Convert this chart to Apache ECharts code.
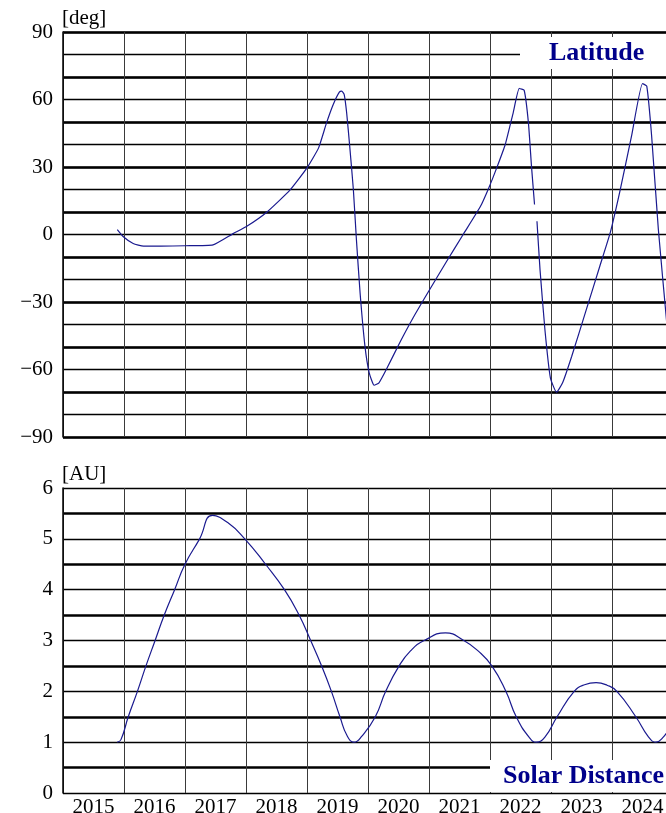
<!DOCTYPE html>
<html>
<head>
<meta charset="utf-8">
<script src="https://cdn.jsdelivr.net/npm/echarts@6/dist/echarts.min.js"></script>
<style>html,body{margin:0;padding:0;background:#fff}#c{width:666px;height:813px}</style>
</head>
<body>
<div id="c"></div>
<script>
var yearLabels = ['2015','2016','2017','2018','2019','2020','2021','2022','2023','2024'];

var latYears = [2015.89, 2015.99, 2016.15, 2016.32, 2016.6, 2017.0, 2017.46, 2017.79, 2018.0, 2018.34, 2018.72, 2019.0, 2019.19, 2019.32, 2019.43, 2019.53, 2019.57, 2019.61, 2019.65, 2019.70, 2019.76, 2019.81, 2019.87, 2019.95, 2020.02, 2020.10, 2020.18, 2020.30, 2020.52, 2020.74, 2020.98, 2021.29, 2021.56, 2021.84, 2021.98, 2022.11, 2022.25, 2022.38, 2022.48, 2022.56, 2022.63, 2022.68, 2022.73, 2022.75, 2022.77, 2022.82, 2022.90, 2022.99, 2023.09, 2023.19, 2023.34, 2023.58, 2023.80, 2023.97, 2024.13, 2024.32, 2024.50, 2024.57, 2024.65, 2024.76, 2024.91];
var latValues = [2.2, -1.0, -4.0, -5.2, -5.2, -5.0, -4.6, 0.4, 3.4, 9.9, 19.7, 29.6, 38.5, 49.6, 57.8, 63.3, 63.7, 62.2, 54.1, 39.3, 20.0, -2.2, -25.9, -49.6, -61.5, -67.0, -65.9, -60.0, -48.1, -37.0, -25.9, -11.9, 0.0, 12.3, 20.7, 29.6, 40.0, 54.1, 64.9, 64.1, 49.6, 30.4, 13.3, null, 5.9, -15.6, -42.2, -63.7, -70.1, -65.9, -54.1, -33.3, -14.1, 0.7, 19.3, 43.7, 67.1, 65.9, 43.7, 2.2, -43];

var distYears = [2015.89, 2015.95, 2016.07, 2016.22, 2016.36, 2016.51, 2016.66, 2016.83, 2017.0, 2017.24, 2017.45, 2017.70, 2017.98, 2018.32, 2018.63, 2018.87, 2019.06, 2019.24, 2019.40, 2019.54, 2019.66, 2019.77, 2019.90, 2020.12, 2020.29, 2020.51, 2020.70, 2020.92, 2021.27, 2021.57, 2021.80, 2022.03, 2022.26, 2022.43, 2022.64, 2022.76, 2022.90, 2023.10, 2023.38, 2023.55, 2023.74, 2023.92, 2024.08, 2024.39, 2024.60, 2024.72, 2024.84, 2024.95];
var distValues = [1.00, 1.05, 1.50, 2.00, 2.50, 3.00, 3.50, 4.00, 4.50, 5.00, 5.46, 5.32, 5.00, 4.50, 4.00, 3.50, 3.00, 2.50, 2.00, 1.50, 1.12, 1.00, 1.12, 1.50, 2.00, 2.50, 2.80, 3.00, 3.15, 3.00, 2.80, 2.50, 2.00, 1.50, 1.10, 1.00, 1.10, 1.50, 2.00, 2.13, 2.17, 2.12, 2.00, 1.50, 1.10, 1.00, 1.10, 1.30];

var latTicks = [-90, -60, -30, 0, 30, 60, 90];
var distTicks = [0, 1, 2, 3, 4, 5, 6];

function pairs(xs, ys) { return xs.map(function (x, i) { return [x, ys[i]]; }); }

var FONT = 'Liberation Serif';
var lineColor = '#1a1a8f';
var labelStyle = { fontFamily: FONT, fontSize: 21, color: '#000' };

var chart = echarts.init(document.getElementById('c'), null, { renderer: 'canvas' });
chart.setOption({
  animation: false,
  backgroundColor: '#fff',
  title: [
    { text: 'Latitude', left: 520, top: 37, padding: [3, 60, 3, 29], backgroundColor: '#fff',
      textStyle: { fontFamily: FONT, fontSize: 26, fontWeight: 'bold', color: '#00008b' } },
    { text: 'Solar Distance', left: 490, top: 760, padding: [3, 60, 3, 13], backgroundColor: '#fff',
      textStyle: { fontFamily: FONT, fontSize: 26, fontWeight: 'bold', color: '#00008b' } }
  ],
  grid: [
    { left: 63, width: 610, top: 32, height: 405, outerBoundsMode: 'none', containLabel: false },
    { left: 63, width: 610, top: 488, height: 305, outerBoundsMode: 'none', containLabel: false }
  ],
  xAxis: [
    { type: 'value', gridIndex: 0, min: 2015, max: 2025, interval: 1,
      axisLabel: { show: false }, axisTick: { show: false }, axisLine: { show: false },
      splitLine: { show: true, lineStyle: { color: '#3a3a3a', width: 1 } } },
    { type: 'value', gridIndex: 1, min: 2015, max: 2025, interval: 1, position: 'top',
      axisLabel: { show: false }, axisTick: { show: false }, axisLine: { show: false },
      splitLine: { show: true, lineStyle: { color: '#3a3a3a', width: 1 } } },
    { type: 'category', gridIndex: 1, data: yearLabels, boundaryGap: true, position: 'bottom',
      axisLabel: Object.assign({ margin: 4 }, labelStyle), axisTick: { show: false },
      axisLine: { show: false }, splitLine: { show: false } }
  ],
  yAxis: [
    { type: 'value', gridIndex: 0, min: -90, max: 90, interval: 10,
      name: '[deg]', nameLocation: 'end', nameGap: 3,
      nameTextStyle: { fontFamily: FONT, fontSize: 21, color: '#000', align: 'left', verticalAlign: 'bottom', padding: [0, 0, 0, -1] },
      axisLabel: Object.assign({ margin: 10, formatter: function (v) {
        if (latTicks.indexOf(v) < 0) return '';
        return v < 0 ? '\u2212' + Math.abs(v) : String(v);
      } }, labelStyle),
      axisTick: { show: false }, axisLine: { show: true, lineStyle: { color: '#000', width: 1.5 } },
      splitLine: { show: true, lineStyle: { color: '#000', width: 1.3 } } },
    { type: 'value', gridIndex: 0, min: -90, max: 90, interval: 20,
      axisLabel: { show: false }, axisTick: { show: false }, axisLine: { show: false },
      splitLine: { show: true, lineStyle: { color: '#000', width: 2.5 } } },
    { type: 'value', gridIndex: 1, min: 0, max: 6, interval: 1,
      name: '[AU]', nameLocation: 'end', nameGap: 3,
      nameTextStyle: { fontFamily: FONT, fontSize: 21, color: '#000', align: 'left', verticalAlign: 'bottom', padding: [0, 0, 0, -1] },
      axisLabel: Object.assign({ margin: 10, formatter: function (v) {
        return distTicks.indexOf(v) < 0 ? '' : String(v);
      } }, labelStyle),
      axisTick: { show: false }, axisLine: { show: true, lineStyle: { color: '#000', width: 1.5 } },
      splitLine: { show: true, lineStyle: { color: '#000', width: 1.3 } } },
    { type: 'value', gridIndex: 1, min: 0, max: 6, interval: 0.5,
      axisLabel: { show: false }, axisTick: { show: false }, axisLine: { show: false },
      splitLine: { show: true, lineStyle: { color: ['rgba(0,0,0,0)', '#000'], width: 2.5 } } }
  ],
  series: [
    { type: 'line', xAxisIndex: 0, yAxisIndex: 0, data: pairs(latYears, latValues),
      showSymbol: false, connectNulls: false, smooth: 0.15, z: 5,
      lineStyle: { color: lineColor, width: 1.2 } },
    { type: 'line', xAxisIndex: 1, yAxisIndex: 2, data: pairs(distYears, distValues),
      showSymbol: false, smooth: 0.5, z: 5,
      lineStyle: { color: lineColor, width: 1.2 } }
  ]
});
</script>
</body>
</html>
